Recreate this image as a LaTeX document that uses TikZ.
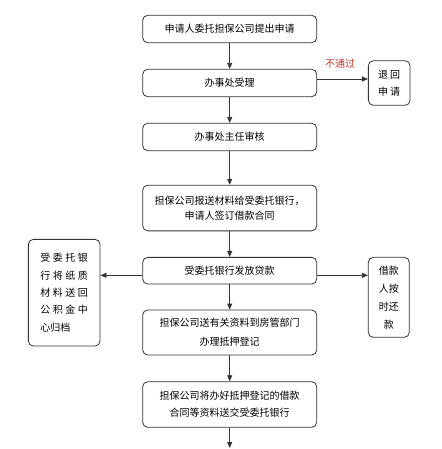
\documentclass[tikz,border=0pt]{standalone}
\usepackage{fontspec}
\setmainfont{Noto Sans CJK SC}
\usetikzlibrary{arrows.meta}
\definecolor{linec}{HTML}{333333}
\definecolor{redtxt}{HTML}{C0392B}
\tikzset{
  box/.style={draw=linec, line width=0.8pt, rounded corners=5pt, align=center, inner sep=0pt, font=\fontsize{10}{16}\selectfont},
  mainbox/.style={box, minimum width=174pt},
  arr/.style={draw=linec, line width=0.8pt, -{Triangle[length=6pt,width=5pt]}}
}
\begin{document}
\begin{tikzpicture}[x=1pt,y=-1pt]
\useasboundingbox (0,0) rectangle (441,449);
\clip (0,0) rectangle (441,449);
\node[mainbox, minimum height=27.4pt] (b1) at (229.7,29) {申请人委托担保公司提出申请};
\node[mainbox, minimum height=27.4pt] (b2) at (229.7,83) {办事处受理};
\node[mainbox, minimum height=27.4pt] (b3) at (229.7,137) {办事处主任审核};
\node[mainbox, minimum height=45.7pt, font=\fontsize{10}{15}\selectfont] (b4) at (229.7,208) {担保公司报送材料给受委托银行，\\申请人签订借款合同};
\node[mainbox, minimum height=26.7pt] (b5) at (229.7,270.7) {受委托银行发放贷款};
\node[mainbox, minimum height=45pt, font=\fontsize{10}{19}\selectfont] (b6) at (229.7,332.5) {担保公司送有关资料到房管部门\\办理抵押登记};
\node[mainbox, minimum height=45.6pt, font=\fontsize{10}{17.3}\selectfont] (b7) at (229.7,404.5) {担保公司将办好抵押登记的借款\\合同等资料送交受委托银行};
\node[box, minimum width=41.7pt, minimum height=44.6pt, font=\fontsize{10}{17}\selectfont] (ret) at (389.2,83) {退\kern2pt 回\\申\kern2pt 请};
\node[box, minimum width=71.7pt, minimum height=106.7pt, align=left, font=\fontsize{10}{17.3}\selectfont] (lft) at (64.2,292.7)
  {受\kern2.5pt 委\kern2.5pt 托\kern2.5pt 银\\行\kern2.5pt 将\kern2.5pt 纸\kern2.5pt 质\\材\kern2.5pt 料\kern2.5pt 送\kern2.5pt 回\\公\kern2.5pt 积\kern2.5pt 金\kern2.5pt 中\\心归档};
\node[box, minimum width=41pt, minimum height=80pt, font=\fontsize{10}{18}\selectfont] (rgt) at (388.8,297.3) {借款\\人按\\时还\\款};
\node[text=redtxt, font=\fontsize{10}{12}\selectfont] (ng) at (340,64) {不通过};
\coordinate (endpt) at (229.7,448);
\draw[arr] (b1) -- (b2);
\draw[arr] (b2) -- (b3);
\draw[arr] (b3) -- (b4);
\draw[arr] (b4) -- (b5);
\draw[arr] (b5) -- (b6);
\draw[arr] (b6) -- (b7);
\draw[arr] (b7) -- (endpt);
\draw[arr] ([yshift=4pt]b2.east) -- ([yshift=4pt]b2.east -| ret.west);
\draw[arr] ([yshift=-4.6pt]b5.west) -- ([yshift=-4.6pt]b5.west -| lft.east);
\draw[arr] ([yshift=-4.6pt]b5.east) -- ([yshift=-4.6pt]b5.east -| rgt.west);
\end{tikzpicture}
\end{document}
